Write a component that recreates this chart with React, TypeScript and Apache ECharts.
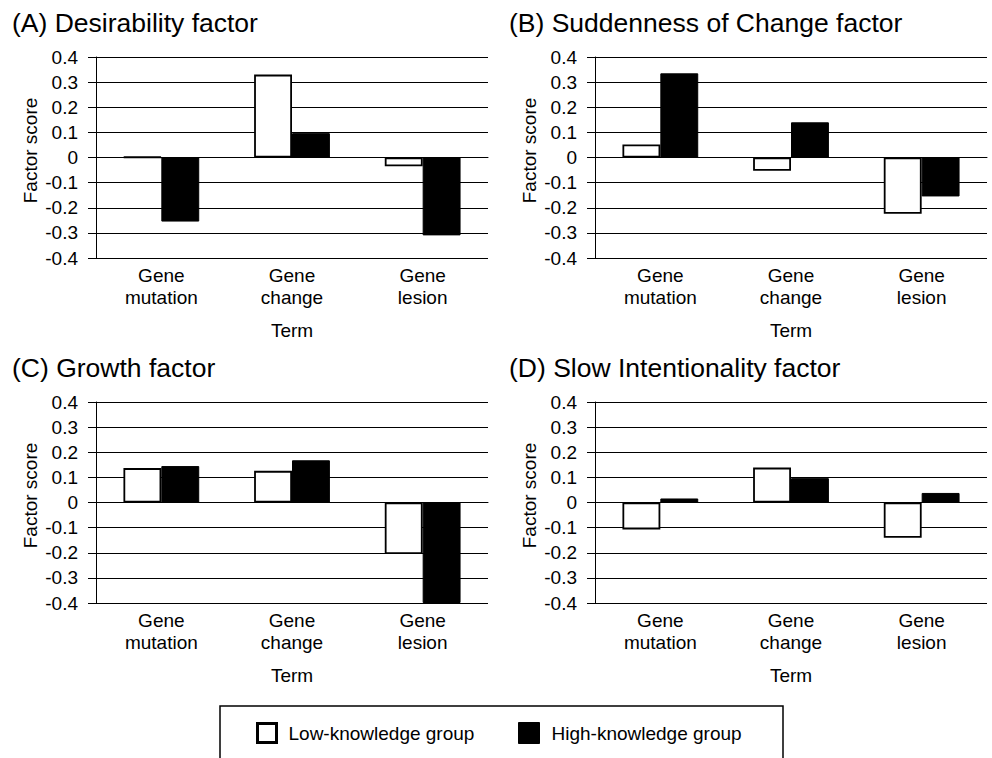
import React, { useEffect, useRef } from "react";
import * as echarts from "echarts";

const categories = ["Gene\nmutation", "Gene\nchange", "Gene\nlesion"];
const panelTitles = [
  "(A) Desirability factor",
  "(B) Suddenness of Change factor",
  "(C) Growth factor",
  "(D) Slow Intentionality factor",
];
const groupNames = ["Low-knowledge group", "High-knowledge group"];

const lowA = [0.002, 0.33, -0.035];
const highA = [-0.255, 0.097, -0.31];
const lowB = [0.052, -0.053, -0.224];
const highB = [0.335, 0.14, -0.155];
const lowC = [0.137, 0.126, -0.205];
const highC = [0.145, 0.168, -0.4];
const lowD = [-0.107, 0.139, -0.14];
const highD = [0.016, 0.097, 0.038];

const lowSeries = [lowA, lowB, lowC, lowD];
const highSeries = [highA, highB, highC, highD];

const yMin = -0.4;
const yMax = 0.4;
const yInterval = 0.1;

const FONT = "'Liberation Sans', Arial, Helvetica, sans-serif";

export default function App() {
  const ref = useRef<HTMLDivElement>(null);

  useEffect(() => {
    if (!ref.current) return;
    const chart = echarts.init(ref.current, null, { renderer: "svg" });

    const grids = [
      { left: 96, top: 57, width: 392, height: 201 },
      { left: 595, top: 57, width: 392, height: 201 },
      { left: 96, top: 402, width: 392, height: 201 },
      { left: 595, top: 402, width: 392, height: 201 },
    ];
    const titlePos = [
      { left: 12, top: 9 },
      { left: 509, top: 9 },
      { left: 12, top: 354 },
      { left: 509, top: 354 },
    ];

    const option: any = {
      animation: false,
      backgroundColor: "#fff",
      textStyle: { fontFamily: FONT, color: "#000" },
      title: panelTitles.map((t, i) => ({
        text: t,
        left: titlePos[i].left,
        top: titlePos[i].top,
        padding: 0,
        textStyle: {
          fontFamily: FONT,
          fontSize: 26.5,
          fontWeight: "normal",
          color: "#000",
        },
      })),
      grid: grids.map((g) => ({ ...g, containLabel: false })),
      xAxis: grids.map((_, i) => ({
        type: "category",
        gridIndex: i,
        data: categories,
        name: "Term",
        nameLocation: "middle",
        nameGap: 63,
        nameTextStyle: { fontFamily: FONT, fontSize: 19, color: "#000" },
        axisLine: { show: true, lineStyle: { color: "#000", width: 1 } },
        axisTick: { show: false },
        axisLabel: {
          fontFamily: FONT,
          fontSize: 19,
          lineHeight: 22,
          color: "#000",
          margin: 6,
          interval: 0,
        },
        splitLine: { show: false },
      })),
      yAxis: grids.map((_, i) => ({
        type: "value",
        gridIndex: i,
        min: yMin,
        max: yMax,
        interval: yInterval,
        name: "Factor score",
        nameLocation: "middle",
        nameGap: 56,
        nameTextStyle: {
          fontFamily: FONT,
          fontSize: 19,
          color: "#000",
          padding: [0, 0, 0, 14],
        },
        axisLine: { show: true, lineStyle: { color: "#000", width: 1 } },
        axisTick: {
          show: true,
          inside: false,
          length: 8,
          lineStyle: { color: "#000", width: 1 },
        },
        axisLabel: {
          fontFamily: FONT,
          fontSize: 19,
          color: "#000",
          margin: 18,
          formatter: (v: number) => {
            const r = Math.round(v * 10) / 10;
            return r === 0 ? "0" : String(r);
          },
        },
        splitLine: { show: true, lineStyle: { color: "#000", width: 1 } },
      })),
      legend: [
        {
          left: 256,
          top: 722,
          padding: 0,
          itemWidth: 19,
          itemHeight: 19,
          icon: "rect",
          data: [groupNames[0]],
          itemStyle: { borderColor: "#000", borderWidth: 3 },
          textStyle: {
            fontFamily: FONT,
            fontSize: 19,
            color: "#000",
            padding: [0, 0, 0, 7],
          },
          selectedMode: false,
        },
        {
          left: 518,
          top: 722,
          padding: 0,
          itemWidth: 21,
          itemHeight: 21,
          icon: "rect",
          data: [groupNames[1]],
          itemStyle: { borderColor: "#000", borderWidth: 1 },
          textStyle: {
            fontFamily: FONT,
            fontSize: 19,
            color: "#000",
            padding: [0, 0, 0, 7],
          },
          selectedMode: false,
        },
      ],
      graphic: [
        {
          type: "rect",
          z: -1,
          shape: { x: 220, y: 706, width: 563, height: 80 },
          style: { fill: "none", stroke: "#000", lineWidth: 1.5 },
        },
      ],
      series: [] as any[],
    };

    for (let i = 0; i < 4; i++) {
      option.series.push({
        type: "bar",
        name: groupNames[0],
        xAxisIndex: i,
        yAxisIndex: i,
        data: lowSeries[i],
        barGap: "0%",
        barCategoryGap: "42%",
        itemStyle: { color: "#fff", borderColor: "#000", borderWidth: 1.8 },
      });
      option.series.push({
        type: "bar",
        name: groupNames[1],
        xAxisIndex: i,
        yAxisIndex: i,
        data: highSeries[i],
        barGap: "0%",
        barCategoryGap: "42%",
        itemStyle: { color: "#000", borderColor: "#000", borderWidth: 1 },
      });
    }

    chart.setOption(option);
    return () => chart.dispose();
  }, []);

  return (
    <div
      ref={ref}
      style={{ position: "fixed", left: 0, top: 0, width: 992, height: 758 }}
    />
  );
}
